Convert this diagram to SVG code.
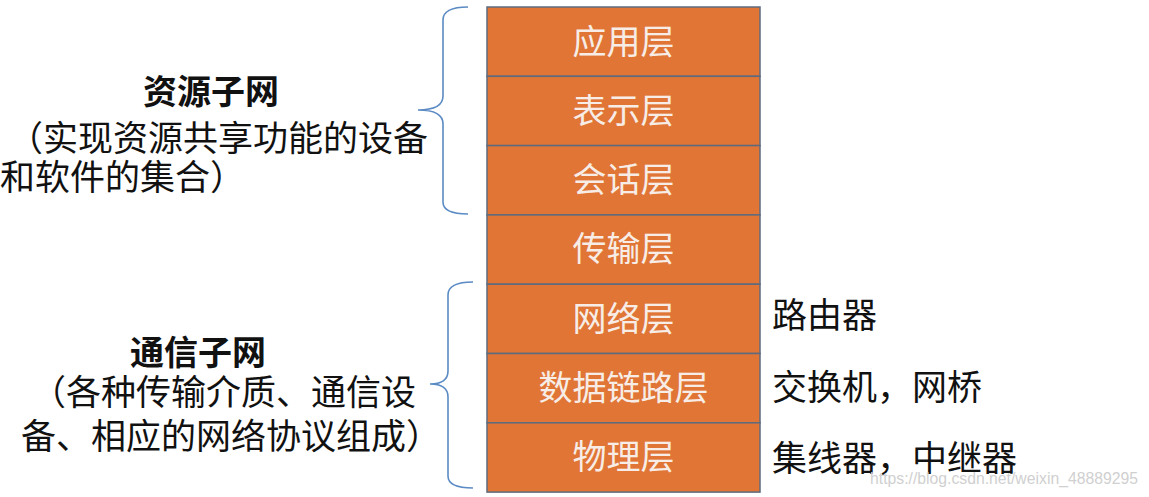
<svg xmlns="http://www.w3.org/2000/svg" width="1149" height="497" viewBox="0 0 1149 497">
<style>
.layer rect{fill:#E07536;stroke:#5E6B7E;stroke-width:1.5}
.layer text{fill:#F7EDE6;font-family:"Noto Sans CJK SC","Noto Sans CJK JP",sans-serif;font-size:34px;text-anchor:middle}
.brace{fill:none;stroke:#5B8BC4;stroke-width:1.6}
.lbl{fill:#111;font-family:"Noto Sans CJK SC","Noto Sans CJK JP",sans-serif;font-size:35px}
.title{font-weight:bold;text-anchor:middle;font-size:34px}
.wm{fill:#d0d0d0;font-family:"Liberation Sans",Arial,sans-serif;font-size:17px}
</style>
<rect width="1149" height="497" fill="#FFFFFF"/>
<g id="layers">
<g id="app" class="layer"><rect x="487" y="7" width="273" height="69.3"/><text x="623.5" y="53.5">应用层</text></g>
<g id="pres" class="layer"><rect x="487" y="76.3" width="273" height="69.3"/><text x="623.5" y="122.8">表示层</text></g>
<g id="sess" class="layer"><rect x="487" y="145.6" width="273" height="69.3"/><text x="623.5" y="192.1">会话层</text></g>
<g id="trans" class="layer"><rect x="487" y="214.9" width="273" height="69.3"/><text x="623.5" y="261.4">传输层</text></g>
<g id="net" class="layer"><rect x="487" y="284.2" width="273" height="69.3"/><text x="623.5" y="330.7">网络层</text></g>
<g id="link" class="layer"><rect x="487" y="353.5" width="273" height="69.3"/><text x="623.5" y="400">数据链路层</text></g>
<g id="phys" class="layer"><rect x="487" y="422.8" width="273" height="69.3"/><text x="623.5" y="469.3">物理层</text></g>
</g>
<g id="connectors">
<path class="brace" d="M468,7 Q443,7 443,20 L443,96 Q443,110 418,110 Q443,110 443,124 L443,202 Q443,214 468,214"/>
<path class="brace" d="M473,282 Q448,282 448,295 L448,371 Q448,384 430,384 Q448,384 448,397 L448,476 Q448,488 473,488"/>
</g>
<g id="resource-subnet">
<text class="lbl title" x="211" y="104">资源子网</text>
<text class="lbl" x="8" y="151">（实现资源共享功能的设备</text>
<text class="lbl" x="0" y="190">和软件的集合）</text>
</g>
<g id="comm-subnet">
<text class="lbl title" x="198" y="365">通信子网</text>
<text class="lbl" x="31" y="405">（各种传输介质、通信设</text>
<text class="lbl" x="21" y="449">备、相应的网络协议组成）</text>
</g>
<g id="devices">
<text class="lbl" x="772" y="328">路由器</text>
<text class="lbl" x="772" y="400">交换机，网桥</text>
<text class="lbl" x="772" y="471">集线器，中继器</text>
</g>
<text class="wm" x="870" y="484" textLength="268" lengthAdjust="spacingAndGlyphs">https://blog.csdn.net/weixin_48889295</text>
</svg>
